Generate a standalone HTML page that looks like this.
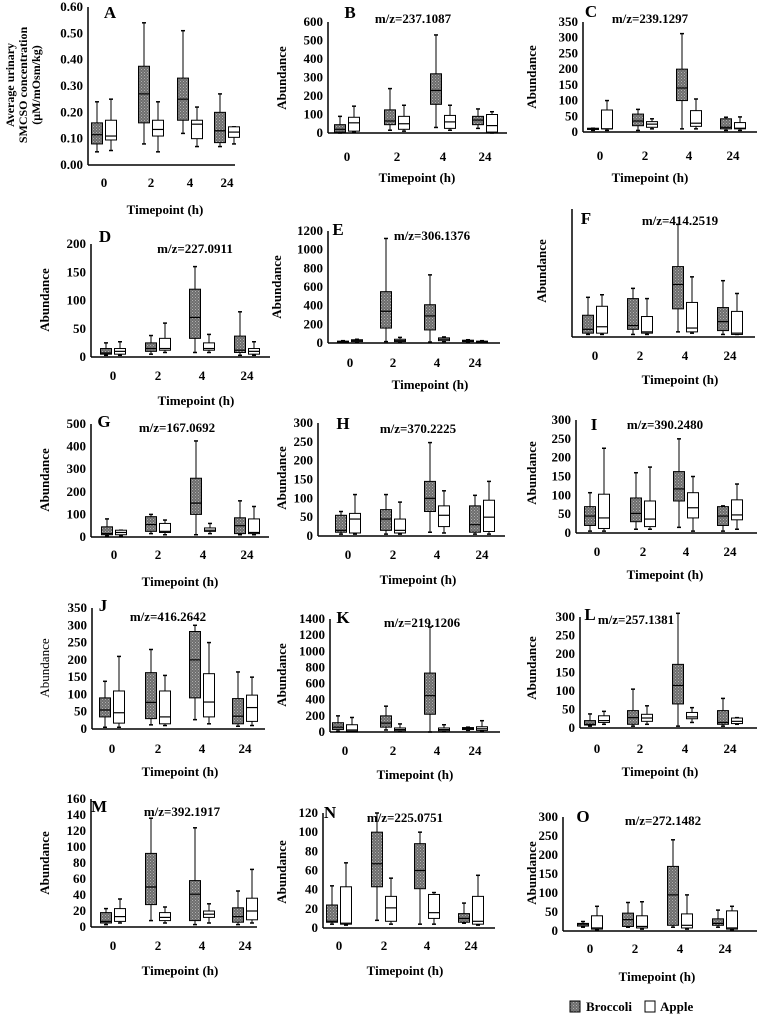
<!DOCTYPE html>
<html><head><meta charset="utf-8"><style>
html,body{margin:0;padding:0;background:#fff;}
svg{display:block;font-family:"Liberation Serif",serif;}
.t{font-weight:bold;font-size:13px;}
</style></head><body>
<svg id="fig" width="757" height="1015" viewBox="0 0 757 1015" xmlns="http://www.w3.org/2000/svg">
<defs>
<pattern id="hatch" width="3" height="3" patternUnits="userSpaceOnUse">
<rect width="3" height="3" fill="#6e6e6e"/><rect width="1" height="1" fill="#b0b0b0"/><rect x="1.5" y="1.5" width="1" height="1" fill="#a0a0a0"/>
</pattern>
</defs>
</svg>
<script>
const categories = ["0","2","4","24"];
const panelIds = ["A","B","C","D","E","F","G","H","I","J","K","L","M","N","O"];
const panelTitles = ["","m/z=237.1087","m/z=239.1297","m/z=227.0911","m/z=306.1376","m/z=414.2519","m/z=167.0692","m/z=370.2225","m/z=390.2480","m/z=416.2642","m/z=219.1206","m/z=257.1381","m/z=392.1917","m/z=225.0751","m/z=272.1482"];
const yMax = [0.6,600,350,200,1200,100,500,300,300,350,1400,300,160,120,300];
const tickStep = [0.1,100,50,50,200,0,100,50,50,50,200,50,20,20,50];
// [min,q1,median,q3,max] per timepoint
const broccoli = {
A:[[.05,.08,.115,.16,.24],[.08,.16,.27,.375,.54],[.12,.17,.25,.33,.51],[.07,.085,.13,.2,.27]],
B:[[0,5,20,45,90],[15,45,65,125,240],[30,155,230,320,530],[25,45,70,90,130]],
C:[[5,8,10,12,12],[5,20,35,57,72],[10,100,140,200,313],[5,10,15,42,47]],
D:[[3,5,7,15,25],[5,10,15,25,38],[8,33,70,120,160],[3,8,12,37,80]],
E:[[5,10,15,20,25],[15,160,340,550,1120],[10,140,290,410,730],[10,15,20,30,35]],
F:[[2,3,6,17,31],[2,6,9,30,38],[4,22,41,55,88],[2,5,12,23,44]],
G:[[5,10,15,45,80],[15,25,55,90,100],[10,100,150,260,425],[10,15,50,85,160]],
H:[[5,10,15,55,65],[5,15,45,70,110],[10,65,100,145,248],[5,10,30,80,108]],
I:[[5,20,45,70,107],[10,30,52,93,160],[15,85,117,163,250],[5,20,45,70,72]],
J:[[5,35,55,90,138],[12,30,77,163,230],[27,90,200,282,300],[8,15,37,88,165]],
K:[[10,30,60,115,200],[25,60,110,200,320],[0,220,450,730,1300],[20,30,45,55,60]],
L:[[5,8,10,20,38],[5,10,28,47,105],[5,65,115,172,310],[5,10,15,47,80]],
M:[[3,5,7,18,23],[8,28,50,92,136],[3,8,41,58,124],[3,6,13,24,45]],
N:[[4,6,7,24,44],[8,43,67,100,120],[4,41,60,88,100],[5,6,10,15,26]],
O:[[10,13,18,20,25],[10,12,30,47,75],[10,15,95,170,240],[10,15,20,32,55]]};
const apple = {
A:[[.055,.095,.11,.17,.25],[.05,.11,.135,.17,.24],[.07,.1,.155,.17,.22],[.08,.105,.125,.145,.145]],
B:[[5,10,55,85,145],[10,20,50,90,150],[15,25,60,95,150],[0,5,40,100,115]],
C:[[5,10,10,70,100],[10,15,25,33,42],[10,18,28,68,105],[5,10,12,30,48]],
D:[[3,5,10,15,27],[8,12,15,33,60],[8,12,15,25,40],[3,5,10,15,27]],
E:[[10,15,25,35,40],[10,15,25,40,60],[15,25,40,55,65],[10,12,15,20,25]],
F:[[2,3,8,24,33],[2,3,4,16,30],[3,4,7,27,47],[2,2,3,20,34]],
G:[[5,10,20,30,30],[10,20,25,60,75],[15,25,30,40,60],[10,15,20,80,135]],
H:[[5,8,45,60,110],[5,8,15,45,90],[8,25,55,80,120],[5,12,50,95,145]],
I:[[5,12,40,103,225],[10,17,37,85,175],[5,40,67,107,150],[10,35,48,88,130]],
J:[[5,17,47,110,210],[10,15,35,110,155],[15,35,78,160,250],[10,22,62,98,150]],
K:[[5,10,25,90,180],[5,15,30,50,100],[5,15,30,50,90],[10,20,40,65,140]],
L:[[10,15,20,33,45],[10,18,27,37,60],[15,25,30,42,55],[10,12,18,27,28]],
M:[[5,7,13,23,35],[5,8,12,18,25],[5,12,16,20,29],[5,9,20,36,72]],
N:[[3,4,5,43,68],[4,7,21,33,52],[4,10,16,35,37],[3,4,7,33,55]],
O:[[3,5,8,40,65],[5,8,12,40,77],[5,8,15,45,95],[3,5,8,53,65]]};
const layout = {
A:{ax:88,top:7,y0:165,r:235,ly:183,cx:[104,151,190,227],L:[110,18],T:null,Y:[22,85],P:[165,210]},
B:{ax:328,top:22,y0:133,r:507,ly:157,cx:[347,397,443,485],L:[350,18],T:[413,19],Y:[282,78],P:[417,178]},
C:{ax:583,top:22,y0:132,r:757,ly:156,cx:[600,645,689,733],L:[591,17],T:[650,19],Y:[532,77],P:[650,178]},
D:{ax:91,top:244,y0:357,r:270,ly:376,cx:[113,158,202,247],L:[105,242],T:[195,249],Y:[45,300],P:[196,401]},
E:{ax:328,top:231,y0:343,r:500,ly:363,cx:[350,393,437,475],L:[338,235],T:[432,236],Y:[277,287],P:[430,385]},
F:{ax:572,top:209,y0:337,r:755,ly:356,cx:[595,640,685,730],L:[586,224],T:[680,221],Y:[542,271],P:[680,380]},
G:{ax:91,top:424,y0:537,r:269,ly:555,cx:[114,158,203,247],L:[104,427],T:[177,428],Y:[45,480],P:[180,582]},
H:{ax:318,top:423,y0:536,r:505,ly:555,cx:[348,393,437,482],L:[343,429],T:[418,429],Y:[282,478],P:[418,580]},
I:{ax:576,top:420,y0:533,r:757,ly:552,cx:[597,643,686,730],L:[594,430],T:[665,425],Y:[532,473],P:[665,575]},
J:{ax:92,top:608,y0:729,r:265,ly:749,cx:[112,158,202,245],L:[103,611],T:[168,617],Y:[45,668],P:[180,772]},
K:{ax:330,top:619,y0:732,r:500,ly:751,cx:[345,393,437,475],L:[343,623],T:[422,623],Y:[282,675],P:[415,775]},
L:{ax:580,top:617,y0:728,r:757,ly:749,cx:[597,640,685,730],L:[590,620],T:[636,620],Y:[532,668],P:[660,772]},
M:{ax:91,top:799,y0:927,r:257,ly:946,cx:[113,158,202,245],L:[99,812],T:[182,812],Y:[45,863],P:[180,971]},
N:{ax:323,top:813,y0:928,r:495,ly:946,cx:[339,384,427,471],L:[330,818],T:[405,818],Y:[282,872],P:[405,971]},
O:{ax:563,top:817,y0:931,r:757,ly:949,cx:[590,635,680,725],L:[583,822],T:[663,821],Y:[532,873],P:[657,977]}};

const NS="http://www.w3.org/2000/svg";
const svg=document.getElementById('fig');
function mk(tag,attrs,parent,text){const e=document.createElementNS(NS,tag);for(const k in attrs)e.setAttribute(k,attrs[k]);if(text!==undefined)e.textContent=text;(parent||svg).appendChild(e);return e;}

panelIds.forEach((id,pi)=>{
  const g=layout[id];
  const grp=mk('g',{});
  
  
  const ys=v=>g.y0-(v/yMax[pi])*(g.y0-g.top);
  const ya=mk('line',{x1:g.ax,y1:g.top,x2:g.ax,y2:g.y0,stroke:'#000','stroke-width':1.5},grp);
  
  
  const xa=mk('line',{x1:g.ax,y1:g.y0,x2:g.r,y2:g.y0,stroke:'#000','stroke-width':1.5},grp);
  
  
  if(tickStep[pi]>0){
    const n=Math.round(yMax[pi]/tickStep[pi]);
    for(let i=0;i<=n;i++){
      const v=i*tickStep[pi];
      const t=mk('text',{x:g.ax-5,y:ys(v)+4,'text-anchor':'end',class:'t'},grp,id==='A'?v.toFixed(2):String(Math.round(v)));
      
      
    }
  }
  categories.forEach((c,ci)=>{
    const t=mk('text',{x:g.cx[ci],y:g.ly+4,'text-anchor':'middle',class:'t'},grp,c);
    
    
    [[broccoli,-7,'url(#hatch)','broccoli'],[apple,7,'#fff','apple']].forEach(([ds,off,fill,nm])=>{
      const d=ds[id][ci];const x=g.cx[ci]+off;const w=11;
      const bg=mk('g',{},grp);
      
      
      mk('line',{x1:x,y1:ys(d[0]),x2:x,y2:ys(d[4]),stroke:'#000','stroke-width':1},bg);
      mk('line',{x1:x-2,y1:ys(d[0]),x2:x+2,y2:ys(d[0]),stroke:'#000','stroke-width':1.5},bg);
      mk('line',{x1:x-2,y1:ys(d[4]),x2:x+2,y2:ys(d[4]),stroke:'#000','stroke-width':1.5},bg);
      mk('rect',{x:x-w/2,y:ys(d[3]),width:w,height:Math.max(1,ys(d[1])-ys(d[3])),fill:fill,stroke:'#000','stroke-width':1},bg);
      mk('line',{x1:x-w/2,y1:ys(d[2]),x2:x+w/2,y2:ys(d[2]),stroke:'#000','stroke-width':1.2},bg);
    });
  });
  const L=mk('text',{x:g.L[0],y:g.L[1],'text-anchor':'middle','font-weight':'bold','font-size':'17px'},grp,id);
  
  
  if(g.T){const T=mk('text',{x:g.T[0],y:g.T[1]+4,'text-anchor':'middle',class:'t'},grp,panelTitles[pi]);
    
    }
  if(id==='A'){
    const yl=mk('text',{transform:'translate('+g.Y[0]+','+g.Y[1]+') rotate(-90)','text-anchor':'middle','font-weight':'bold','font-size':'12px'},grp);
    
    
    ['Average urinary','SMCSO concentration','(μM/mOsm/kg)'].forEach((s,i)=>mk('tspan',{x:0,dy:i?13:-8},yl,s));
  } else {
    const yl=mk('text',{transform:'translate('+(g.Y[0]+4)+','+g.Y[1]+') rotate(-90)','text-anchor':'middle','font-weight':id==='J'?'normal':'bold','font-size':'13px'},grp,'Abundance');
    
    
  }
  const P=mk('text',{x:g.P[0],y:g.P[1]+4,'text-anchor':'middle',class:'t'},grp,'Timepoint (h)');
  
  
});
const lg=mk('g',{});


const l1=mk('rect',{x:570,y:1001,width:10,height:11,fill:'url(#hatch)',stroke:'#000'},lg);


const t1=mk('text',{x:586,y:1011,class:'t'},lg,'Broccoli');


const l2=mk('rect',{x:645,y:1001,width:10,height:11,fill:'#fff',stroke:'#000'},lg);


const t2=mk('text',{x:660,y:1011,class:'t'},lg,'Apple');


</script>
</body></html>
